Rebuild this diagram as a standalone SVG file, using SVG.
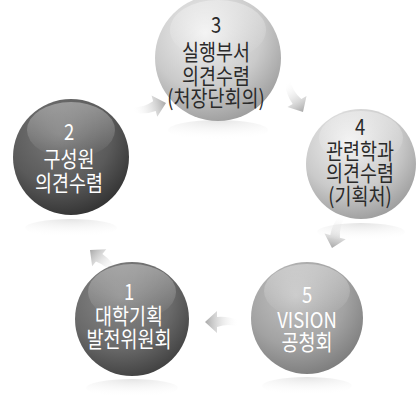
<svg xmlns="http://www.w3.org/2000/svg" width="416" height="404" viewBox="0 0 416 404">
<style>
.t{font-family:"Noto Sans CJK KR","Noto Sans",sans-serif;font-size:22px;text-anchor:middle;font-weight:400}
.w{fill:#ffffff}
.d{fill:#2a2a2a}
</style>
<defs>
<radialGradient id="gLight" cx="0.4" cy="0.3" r="0.75">
<stop offset="0" stop-color="#f2f2f2"/><stop offset="0.6" stop-color="#cacaca"/><stop offset="1" stop-color="#9a9a9a"/>
</radialGradient>
<radialGradient id="gMid" cx="0.4" cy="0.3" r="0.75">
<stop offset="0" stop-color="#c4c4c4"/><stop offset="0.6" stop-color="#a2a2a2"/><stop offset="1" stop-color="#7a7a7a"/>
</radialGradient>
<radialGradient id="gDark" cx="0.4" cy="0.3" r="0.75">
<stop offset="0" stop-color="#8a8a8a"/><stop offset="0.6" stop-color="#6a6a6a"/><stop offset="1" stop-color="#3e3e3e"/>
</radialGradient>
<radialGradient id="gDarker" cx="0.4" cy="0.3" r="0.75">
<stop offset="0" stop-color="#7a7a7a"/><stop offset="0.6" stop-color="#5a5a5a"/><stop offset="1" stop-color="#303030"/>
</radialGradient>
<linearGradient id="hl" x1="0" y1="0" x2="0" y2="1">
<stop offset="0" stop-color="#fff" stop-opacity="0.35"/><stop offset="1" stop-color="#fff" stop-opacity="0"/>
</linearGradient>
<radialGradient id="refl" cx="0.5" cy="0" r="1">
<stop offset="0" stop-color="#d8d8d8" stop-opacity="0.7"/><stop offset="1" stop-color="#fff" stop-opacity="0"/>
</radialGradient>
<linearGradient id="arr" x1="0" y1="0" x2="1" y2="0">
<stop offset="0" stop-color="#a8a8a8"/><stop offset="1" stop-color="#ffffff" stop-opacity="0"/>
</linearGradient>
<path id="arrowShape" d="M0,0 L12,-11 L12,-5 Q24,-6 34,-1 L34,5 Q24,1 12,5 L12,11 Z"/>
</defs>
<rect width="416" height="404" fill="#ffffff"/>
<g id="connectors">
<use href="#arrowShape" fill="url(#arr)" transform="translate(166,103) rotate(165)"/>
<use href="#arrowShape" fill="url(#arr)" transform="translate(303,112) rotate(-120)"/>
<use href="#arrowShape" fill="url(#arr)" transform="translate(332,248) rotate(-75)"/>
<use href="#arrowShape" fill="url(#arr)" transform="translate(205,322) rotate(0)"/>
<use href="#arrowShape" fill="url(#arr)" transform="translate(90,250) rotate(40)"/>
</g>
<g id="node3">
<ellipse cx="218" cy="130" rx="50" ry="10" fill="url(#refl)"/>
<circle cx="218" cy="58" r="63" fill="url(#gLight)"/>
<ellipse cx="218" cy="30" rx="48" ry="30" fill="url(#hl)"/>
<text class="t d" transform="matrix(0.84 0 0 1 216 0)"><tspan x="0" y="33">3</tspan><tspan x="0" y="60">실행부서</tspan><tspan x="0" y="84">의견수렴</tspan><tspan x="0" y="106">(처장단회의)</tspan></text>
</g>
<g id="node2">
<ellipse cx="71" cy="228" rx="46" ry="9" fill="url(#refl)"/>
<circle cx="71" cy="157" r="58" fill="url(#gDarker)"/>
<ellipse cx="71" cy="130" rx="44" ry="28" fill="url(#hl)"/>
<text class="t w" transform="matrix(0.84 0 0 1 69 0)"><tspan x="0" y="140">2</tspan><tspan x="0" y="167">구성원</tspan><tspan x="0" y="191">의견수렴</tspan></text>
</g>
<g id="node4">
<ellipse cx="361" cy="232" rx="44" ry="9" fill="url(#refl)"/>
<circle cx="361" cy="164" r="55" fill="url(#gLight)"/>
<ellipse cx="361" cy="138" rx="42" ry="27" fill="url(#hl)"/>
<text class="t d" transform="matrix(0.84 0 0 1 360 0)"><tspan x="0" y="135">4</tspan><tspan x="0" y="159">관련학과</tspan><tspan x="0" y="181">의견수렴</tspan><tspan x="0" y="204">(기획처)</tspan></text>
</g>
<g id="node1">
<ellipse cx="132" cy="388" rx="46" ry="9" fill="url(#refl)"/>
<circle cx="132" cy="319" r="57" fill="url(#gDark)"/>
<ellipse cx="132" cy="292" rx="44" ry="28" fill="url(#hl)"/>
<text class="t w" transform="matrix(0.84 0 0 1 129 0)"><tspan x="0" y="300">1</tspan><tspan x="0" y="324">대학기획</tspan><tspan x="0" y="347">발전위원회</tspan></text>
</g>
<g id="node5">
<ellipse cx="307" cy="386" rx="45" ry="9" fill="url(#refl)"/>
<circle cx="307" cy="318" r="56" fill="url(#gMid)"/>
<ellipse cx="307" cy="291" rx="43" ry="27" fill="url(#hl)"/>
<text class="t w" transform="matrix(0.84 0 0 1 307 0)"><tspan x="0" y="303">5</tspan><tspan x="0" y="328">VISION</tspan><tspan x="0" y="350">공청회</tspan></text>
</g>
</svg>
